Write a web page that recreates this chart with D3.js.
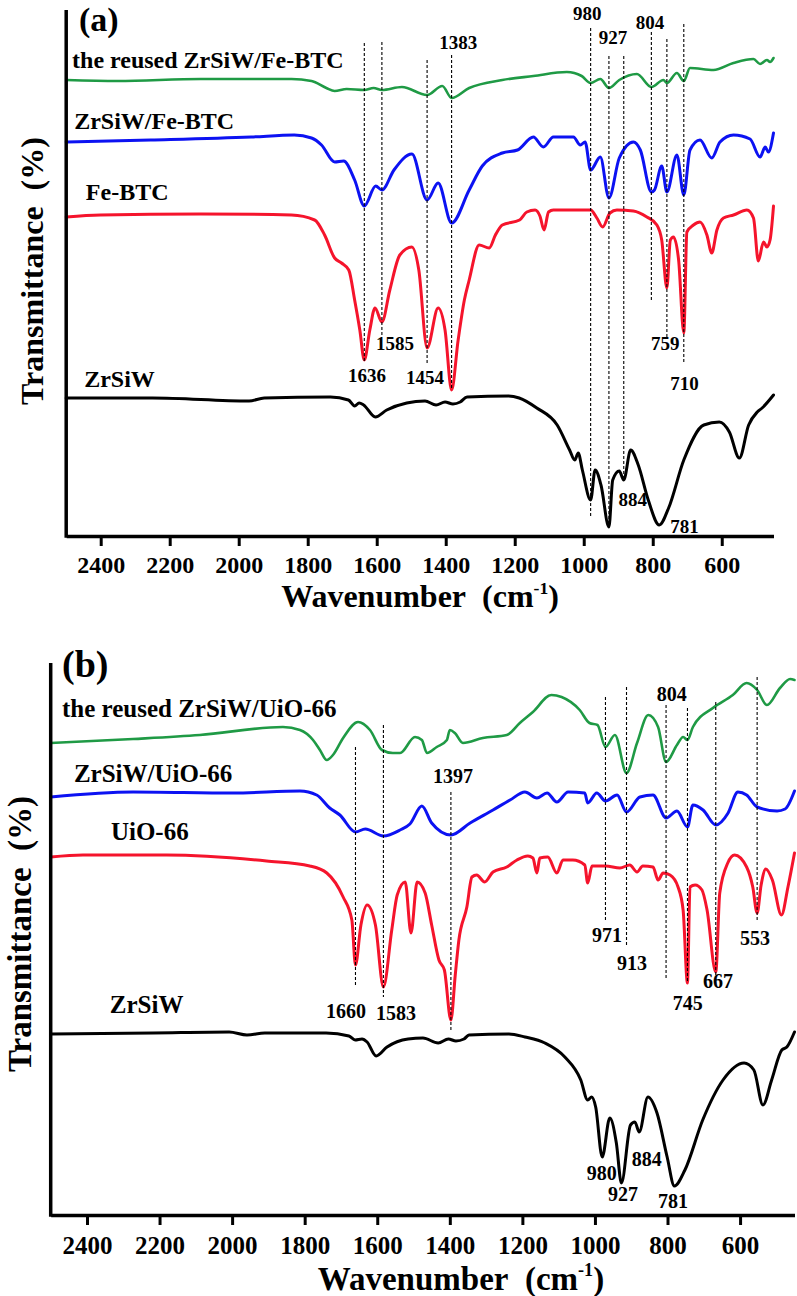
<!DOCTYPE html>
<html><head><meta charset="utf-8">
<script src="https://cdn.jsdelivr.net/npm/d3@7"></script>
<style>
body{margin:0;background:#fff}
svg{display:block}
text{font-family:"Liberation Serif","Times New Roman",serif;font-weight:bold;fill:#000}
</style>
</head><body>
<svg id="c" width="797" height="1296"></svg>
<script>
// ---------- shared ----------
const wavenumberTicks = [2400, 2200, 2000, 1800, 1600, 1400, 1200, 1000, 800, 600];

// ---------- panel (a) spectra: [wavenumber cm-1, transmittance (a.u., offset)] ----------
const aReusedFeBTC = [[2500,91.2],[2351,91],[2110,91.4],[1847,91.4],[1789,91],[1746,89.6],[1722,89],[1687,89.4],[1636,89.2],[1609,89.6],[1585,89.2],[1527,89.8],[1454,88.2],[1410,90],[1383,87.6],[1332,89.6],[1236,91.2],[1146,92],[1049,92.8],[1006,92],[980,90.6],[952,91.4],[927,89.6],[897,91.2],[846,92.4],[804,89.8],[769,91.2],[759,90.6],[730,92.6],[710,91],[692,93.6],[624,93.2],[566,94.6],[508,95.4],[489,94.4],[469,95.2],[460,94.8],[450,95.6]];
const aZrSiWFeBTC = [[2500,78.8],[2255,79.2],[1964,79.8],[1839,80.2],[1789,79.6],[1760,78.2],[1722,74.8],[1696,75],[1664,71.2],[1636,66],[1603,70],[1585,69.2],[1550,73.2],[1498,76.4],[1454,67.2],[1422,70.6],[1383,62.6],[1332,69.2],[1294,74],[1236,76.6],[1192,77.2],[1146,79.8],[1117,77.8],[1088,79.8],[1030,79.8],[1010,78.2],[996,78.8],[980,73.2],[952,75.8],[927,67.6],[897,75.6],[856,78.8],[836,77.2],[804,68.8],[795,69.2],[774,74],[759,68.8],[730,76.2],[710,68.2],[692,77.2],[663,79.2],[629,75.6],[605,78.8],[566,80.2],[518,79.4],[489,75.8],[474,77.8],[465,76.8],[450,80.6]];
const aFeBTC = [[2500,63.8],[2401,64.2],[2110,64.4],[1847,64.2],[1780,63.2],[1751,60.2],[1722,55.6],[1702,54.6],[1681,53.2],[1664,47.2],[1649,41.2],[1636,35.2],[1620,41.2],[1605,45.6],[1585,42.8],[1562,49.2],[1533,56.2],[1498,57.8],[1478,53.2],[1454,37.6],[1422,45.6],[1402,41.2],[1383,29.2],[1364,39.2],[1346,47.2],[1332,51.2],[1303,58.2],[1274,57.6],[1256,60.2],[1236,62.2],[1186,63.2],[1165,64.8],[1141,65.2],[1127,64],[1115,61.2],[1102,64.8],[1088,65.2],[980,65.2],[962,63.6],[945,61.8],[924,64.6],[904,65.2],[856,65],[817,63.8],[788,62.2],[774,59.2],[759,49.6],[749,59.2],[740,59.8],[725,55.2],[710,40.6],[701,60.8],[682,62.2],[663,62.8],[643,60.2],[629,56.6],[614,61.2],[595,63.6],[566,64.2],[527,65.2],[508,63.6],[494,55],[479,58.8],[469,57.8],[460,59.2],[450,66]];
const aZrSiW = [[2500,27.6],[2250,27.6],[1970,27],[1926,27.6],[1734,27.8],[1682,27.2],[1664,26],[1651,26.6],[1638,26.2],[1604,23.8],[1571,25.2],[1513,26.6],[1460,27],[1428,26.2],[1402,26.8],[1379,26.4],[1358,26.8],[1338,27.8],[1218,28],[1187,27.6],[1136,25.6],[1077,22.2],[1041,17.2],[1026,15.2],[1016,16.6],[1004,13.2],[980,7.2],[967,13.2],[950,10.2],[927,1.8],[916,11.2],[897,13],[884,11.2],[864,17.2],[842,14.2],[813,7.2],[781,2.2],[754,5.6],[710,15.2],[652,22.2],[607,22.8],[578,20.8],[549,15.6],[522,22.2],[497,24.8],[483,25.6],[450,28.2]];

const aSeriesNames = ["the reused ZrSiW/Fe-BTC", "ZrSiW/Fe-BTC", "Fe-BTC", "ZrSiW"];
const aNameWn = [2483, 2477, 2443, 2448];
const aNameLevel = [93.6, 81.4, 67.2, 29.8];

const aMarkerWn = [1636, 1585, 1454, 1383, 980, 927, 884, 804, 759, 710];
const aMarkerTop = [98.6, 98.8, 95.2, 96.2, 101.6, 96, 96, 100.8, 99.4, 102.4];
const aMarkerBottom = [34.8, 39.8, 34.2, 29.2, 3.6, 1.8, 11.2, 46.8, 39.8, 34.8];

const aPeakText = ["1383", "980", "927", "804", "1636", "1585", "1454", "759", "710", "884", "781"];
const aPeakWn = [1364, 990, 915, 808, 1628, 1547, 1460, 764, 708, 858, 708];
const aPeakLevel = [97.4, 103.2, 98.4, 101.4, 30.8, 37.2, 30.4, 37.2, 29.2, 6, 0.6];

// ---------- panel (b) spectra ----------
const bReusedUiO = [[2500,94.4],[2273,95.2],[2089,96],[1860,97.6],[1813,97],[1777,95],[1758,93],[1739,91],[1722,92],[1694,95.4],[1653,98.6],[1620,97],[1587,93],[1557,92.4],[1537,92.4],[1496,95.6],[1477,95],[1463,92.4],[1436,93.6],[1408,95],[1400,97],[1386,96.4],[1364,94.4],[1309,95.4],[1243,96],[1207,98.4],[1171,100.6],[1120,104],[1092,103.6],[1042,101],[1015,98.4],[993,98],[971,93.6],[945,96],[913,88.4],[884,94.4],[853,100],[826,97.6],[804,90.6],[774,94],[757,95.6],[745,95],[730,97.6],[675,101.4],[620,104],[582,106.4],[553,105],[526,102],[490,105.4],[462,107.2],[450,107]];
const bZrSiWUiO = [[2500,83.6],[2273,84.6],[1997,84.4],[1813,84.8],[1767,84],[1731,81.4],[1703,80],[1660,76.6],[1633,77.2],[1583,75.8],[1537,77],[1510,78.2],[1477,81.8],[1450,78.4],[1397,76],[1344,78.4],[1281,81],[1234,83],[1193,84.6],[1160,83.4],[1132,84.4],[1105,82.6],[1074,84.6],[1028,84.4],[1020,82.4],[995,84.4],[971,82.8],[939,84],[913,80.6],[876,83.6],[840,84],[804,79.4],[774,80.8],[745,77.6],[730,82],[702,81],[667,78],[633,80.4],[606,84.6],[582,84],[553,81.6],[498,80.8],[476,81.2],[450,84.8]];
const bUiO66 = [[2500,71.6],[2411,72],[2181,72],[1905,70.8],[1786,69.8],[1739,68.4],[1694,63.6],[1670,59],[1660,50],[1645,58],[1628,62],[1605,58],[1583,45.6],[1560,57],[1545,64],[1523,66.6],[1507,56.4],[1490,66.6],[1468,64.4],[1450,58],[1430,51],[1415,49],[1397,39],[1385,48],[1375,55],[1353,61.6],[1339,67.6],[1326,68],[1304,66.6],[1281,68.6],[1243,69.6],[1215,71],[1185,71.8],[1171,71.4],[1160,68.4],[1152,71.4],[1130,71.6],[1105,68.4],[1088,71],[1061,71],[1028,70],[1020,66.4],[1008,69.8],[971,69.8],[931,69.4],[904,70],[884,68.6],[868,69.8],[840,69.6],[826,67],[812,68.4],[793,68],[771,65.6],[757,61],[745,46.4],[738,65.6],[724,66],[705,65],[691,61],[667,48.6],[656,64.4],[634,70.4],[615,72],[582,69.6],[565,65.6],[553,60.4],[542,66],[529,69.2],[511,67],[486,60],[468,65.6],[450,72.4]];
const bZrSiW = [[2500,36.2],[2218,36.4],[2008,36.6],[1959,36],[1910,36.4],[1741,36.4],[1678,35.8],[1661,35],[1642,35.2],[1628,34.6],[1603,31.8],[1573,33.6],[1515,35.2],[1474,35.4],[1432,34.4],[1404,35.2],[1383,34.8],[1361,35.2],[1347,36],[1237,36.2],[1193,35.6],[1138,34.4],[1083,31.6],[1039,27],[1020,23],[1009,23.6],[998,21.6],[980,11.6],[959,19.4],[941,14.4],[927,6.4],[902,18],[890,18.6],[878,16.6],[854,23.6],[829,20.4],[801,11.6],[781,5.8],[752,9],[703,19],[647,27],[589,30.4],[562,29],[537,22],[513,27],[485,33],[471,33.6],[450,36.6]];

const bSeriesNames = ["the reused ZrSiW/UiO-66", "ZrSiW/UiO-66", "UiO-66", "ZrSiW"];
const bNameWn = [2469, 2436, 2334, 2337];
const bNameLevel = [99.6, 86.6, 75, 40.4];

const bMarkerWn = [1660, 1583, 1397, 971, 913, 804, 745, 667, 553];
const bMarkerTop = [93.6, 98, 84.6, 103.6, 105.6, 102, 101.4, 102.6, 107.6];
const bMarkerBottom = [45.6, 43.6, 36.6, 59, 54, 47, 46.4, 48, 58.6];

const bPeakText = ["1397", "804", "971", "553", "913", "667", "745", "1660", "1583", "980", "884", "927", "781"];
const bPeakWn = [1391, 788, 967, 559, 898, 661, 744, 1686, 1548, 981, 857, 923, 785];
const bPeakLevel = [86.4, 102.8, 54.6, 54, 49, 45.4, 41, 39.4, 39, 7, 9.8, 2.8, 1.4];

const seriesColors = ["#1f9a45", "#0c12f2", "#f5142c", "#000000"];
const seriesWidths = [2.6, 3, 3, 3];

// ---------- drawing ----------
const svg = d3.select("#c");

function drawPanel(p) {
  const x = d3.scaleLinear().domain([2500, 450]).range(p.xRange);
  const y = d3.scaleLinear().domain([0, p.yMax]).range(p.yRange);
  const g = svg.append("g");

  const line = d3.line().x(d => x(d[0])).y(d => y(d[1])).curve(d3.curveMonotoneX);
  p.series.forEach((s, i) => {
    g.append("path").datum(s)
      .attr("d", line)
      .attr("fill", "none")
      .attr("stroke", seriesColors[i])
      .attr("stroke-width", seriesWidths[i])
      .attr("stroke-linejoin", "round")
      .attr("stroke-linecap", "round");
  });

  // dashed peak markers
  g.selectAll(null).data(p.markerWn).join("line")
    .attr("x1", d => x(d)).attr("x2", d => x(d))
    .attr("y1", (d, i) => y(p.markerTop[i]))
    .attr("y2", (d, i) => y(p.markerBottom[i]))
    .attr("stroke", "#000").attr("stroke-width", 1.1)
    .attr("stroke-dasharray", "3,2");

  // x axis
  const ax = d3.axisBottom(x).tickValues(wavenumberTicks).tickFormat(d3.format("d"))
    .tickSize(10).tickSizeOuter(0).tickPadding(p.tickPad);
  const axG = g.append("g").attr("transform", `translate(0,${p.yRange[0]})`).call(ax);
  axG.attr("font-size", p.tickFont);
  axG.select(".domain").attr("stroke-width", 3.5).attr("stroke", "#000");
  axG.selectAll(".tick line").attr("stroke-width", 3).attr("stroke", "#000");
  axG.selectAll(".tick text").style("font-size", p.tickFont + "px");

  // y axis (no ticks)
  g.append("line")
    .attr("x1", p.xRange[0]).attr("x2", p.xRange[0])
    .attr("y1", p.yRange[1]).attr("y2", p.yRange[0] + 1.75)
    .attr("stroke", "#000").attr("stroke-width", 3.5);

  // series names
  g.selectAll(null).data(p.names).join("text")
    .attr("x", (d, i) => x(p.nameWn[i]))
    .attr("y", (d, i) => y(p.nameLevel[i]))
    .style("font-size", p.nameFont + "px")
    .text(d => d);

  // peak labels
  g.selectAll(null).data(p.peakText).join("text")
    .attr("x", (d, i) => x(p.peakWn[i]))
    .attr("y", (d, i) => y(p.peakLevel[i]))
    .attr("text-anchor", "middle")
    .style("font-size", p.peakFont + "px")
    .text(d => d);

  // panel letter
  g.append("text").attr("x", p.letterPos[0]).attr("y", p.letterPos[1])
    .style("font-size", p.letterFont + "px").text(p.letter);

  // x title
  const xt = g.append("text").attr("x", p.xTitlePos[0]).attr("y", p.xTitlePos[1])
    .attr("text-anchor", "middle").style("font-size", p.titleFont + "px");
  xt.append("tspan").text("Wavenumber\u00a0\u00a0(cm");
  xt.append("tspan").attr("dy", -p.titleFont * 0.42).style("font-size", (p.titleFont * 0.55) + "px").text("-1");
  xt.append("tspan").attr("dy", p.titleFont * 0.42).text(")");

  // y title
  g.append("text")
    .attr("transform", `translate(${p.yTitlePos[0]},${p.yTitlePos[1]}) rotate(-90)`)
    .attr("text-anchor", "middle")
    .style("font-size", p.titleFont + "px")
    .text("Transmittance\u00a0\u00a0(%)");
}

drawPanel({
  xRange: [66.2, 773.5], yRange: [536, 10], yMax: 105.2,
  series: [aReusedFeBTC, aZrSiWFeBTC, aFeBTC, aZrSiW],
  names: aSeriesNames, nameWn: aNameWn, nameLevel: aNameLevel,
  markerWn: aMarkerWn, markerTop: aMarkerTop, markerBottom: aMarkerBottom,
  peakText: aPeakText, peakWn: aPeakWn, peakLevel: aPeakLevel,
  tickFont: 24, tickPad: 10, nameFont: 24, peakFont: 19, titleFont: 32,
  letter: "(a)", letterFont: 34, letterPos: [79, 31],
  xTitlePos: [420, 607], yTitlePos: [43, 271]
});

drawPanel({
  xRange: [50.7, 794.5], yRange: [1215, 663], yMax: 110.4,
  series: [bReusedUiO, bZrSiWUiO, bUiO66, bZrSiW],
  names: bSeriesNames, nameWn: bNameWn, nameLevel: bNameLevel,
  markerWn: bMarkerWn, markerTop: bMarkerTop, markerBottom: bMarkerBottom,
  peakText: bPeakText, peakWn: bPeakWn, peakLevel: bPeakLevel,
  tickFont: 25, tickPad: 11, nameFont: 25, peakFont: 20, titleFont: 33,
  letter: "(b)", letterFont: 38, letterPos: [62, 677],
  xTitlePos: [461, 1290], yTitlePos: [31, 934]
});
</script>
</body></html>
